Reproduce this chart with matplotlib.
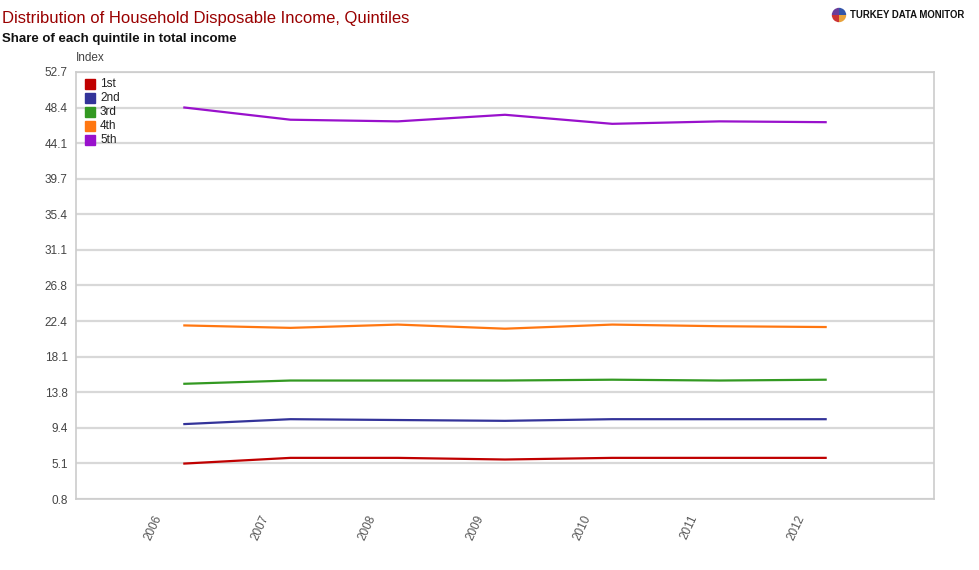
import numpy as np
import matplotlib
matplotlib.use('Agg')
from matplotlib import pyplot as plt
from matplotlib import transforms
from matplotlib.patches import Rectangle

plt.rcParams['font.family'] = ['Liberation Sans', 'DejaVu Sans']

# data (share of total income, %)
years = ['2006', '2007', '2008', '2009', '2010', '2011', '2012']
q1 = [5.1, 5.8, 5.8, 5.6, 5.8, 5.8, 5.8]
q2 = [9.9, 10.5, 10.4, 10.3, 10.5, 10.5, 10.5]
q3 = [14.8, 15.2, 15.2, 15.2, 15.3, 15.2, 15.3]
q4 = [21.9, 21.6, 22.0, 21.5, 22.0, 21.8, 21.7]
q5 = [48.4, 46.9, 46.7, 47.5, 46.4, 46.7, 46.6]
series_names = ['1st', '2nd', '3rd', '4th', '5th']
series_colors = ['#c00000', '#333399', '#339922', '#ff7711', '#9911cc']
y_ticks = np.linspace(0.8, 52.7, 13)
y_labels = ['0.8', '5.1', '9.4', '13.8', '18.1', '22.4', '26.8', '31.1',
            '35.4', '39.7', '44.1', '48.4', '52.7']

px = 1 / 100
fig = plt.figure(figsize=(979 * px, 570 * px), dpi=100)
ax = fig.add_axes([76 / 979, 1 - 499 / 570, (934 - 76) / 979, (499 - 72) / 570])

x = np.arange(len(years))
for vals, col in zip([q1, q2, q3, q4, q5], series_colors):
    ax.plot(x, vals, color=col, linewidth=1.6, solid_capstyle='butt', zorder=3)

ax.set_xlim(-1, len(years))
ax.set_ylim(y_ticks[0], y_ticks[-1])
ax.set_yticks(y_ticks)
ax.set_yticklabels(y_labels, fontsize=8.5, color='#444444')
ax.grid(axis='y', color='#d8d8d8', linewidth=1.6, zorder=0)
ax.tick_params(axis='both', length=0, pad=6)
for s in ax.spines.values():
    s.set_color('#cccccc')
    s.set_linewidth(1.2)

ax.set_xticks(x)
ax.set_xticklabels(years, rotation=65, ha='right', va='top', fontsize=8.5, color='#555555',
                   rotation_mode='anchor')
shift = transforms.ScaledTranslation(-30 / 100, -6 / 100, fig.dpi_scale_trans)
for lab in ax.get_xticklabels():
    lab.set_transform(lab.get_transform() + shift)

# legend, top left inside the plot
for i, (name, col) in enumerate(zip(series_names, series_colors)):
    yp = 84 + 14 * i
    fig.patches.append(Rectangle((85 * px, (570 - yp - 5) * px), 10 * px, 10 * px,
                                 transform=fig.dpi_scale_trans, color=col, zorder=5))
    fig.text(100 / 979, 1 - yp / 570, name, fontsize=8.5, color='#222222', va='center')

fig.text(76 / 979, 1 - 58 / 570, 'Index', fontsize=8.5, color='#444444', va='center')

fig.text(2 / 979, 1 - 18 / 570, 'Distribution of Household Disposable Income, Quintiles',
         fontsize=12, color='#990000', va='center')
fig.text(2 / 979, 1 - 39 / 570, 'Share of each quintile in total income',
         fontsize=9.5, color='#111111', va='center', fontweight='bold')

# logo
lax = fig.add_axes([830 / 979, 1 - 24 / 570, 18 / 979, 18 / 570])
lax.pie([1, 1, 1, 1], colors=['#6a3d9a', '#cc3333', '#e8a33c', '#3355aa'], startangle=90)
lax.set_aspect('equal')
fig.text(850 / 979, 1 - 15 / 570, 'TURKEY DATA MONITOR', fontsize=6.9, fontweight='bold',
         color='#111111', va='center')

fig.savefig('out.png', dpi=100)
